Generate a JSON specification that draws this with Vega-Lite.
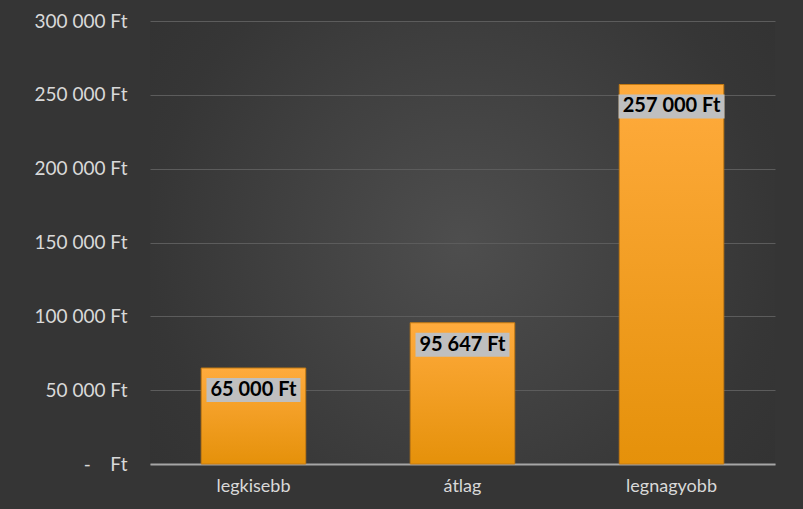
{
  "$schema": "https://vega.github.io/schema/vega-lite/v6.json",
  "width": 625,
  "height": 443,
  "autosize": {"type": "none"},
  "padding": {"left": 150, "top": 21, "right": 28, "bottom": 45},
  "background": "#353535",
  "data": {
    "values": [
      {"category": "legkisebb", "value": 65000, "label": "65 000 Ft"},
      {"category": "átlag", "value": 95647, "label": "95 647 Ft"},
      {"category": "legnagyobb", "value": 257000, "label": "257 000 Ft"}
    ]
  },
  "encoding": {
    "x": {
      "field": "category",
      "type": "nominal",
      "sort": null,
      "scale": {"paddingInner": 0.5, "paddingOuter": 0.245},
      "axis": {
        "title": null,
        "labelAngle": 0,
        "ticks": false,
        "domainColor": "#a6a6a6",
        "domainWidth": 2,
        "labelColor": "#d9d9d9",
        "labelFont": "Lato",
        "labelFontSize": 18,
        "labelPadding": 13,
        "grid": false
      }
    },
    "y": {
      "field": "value",
      "type": "quantitative",
      "scale": {"domain": [0, 300000], "nice": false},
      "axis": {
        "title": null,
        "domain": false,
        "ticks": false,
        "grid": true,
        "gridColor": "#5c5c5c",
        "gridWidth": 1,
        "labelColor": "#d9d9d9",
        "labelFont": "Lato",
        "labelFontSize": 19,
        "labelPadding": 23,
        "values": [0, 50000, 100000, 150000, 200000, 250000, 300000],
        "labelExpr": "datum.value === 0 ? '-\u00a0\u00a0\u00a0\u00a0Ft' : replace(format(datum.value, ','), regexp(',', 'g'), ' ') + ' Ft'"
      }
    }
  },
  "layer": [
    {
      "mark": {
        "type": "bar",
        "fill": {
          "gradient": "linear",
          "x1": 0, "y1": 0, "x2": 0, "y2": 1,
          "stops": [
            {"offset": 0, "color": "#FFAB3D"},
            {"offset": 1, "color": "#E5910A"}
          ]
        },
        "stroke": "#c47a12",
        "strokeWidth": 1
      }
    },
    {
      "mark": {
        "type": "point",
        "filled": true,
        "color": "#bfbfbf",
        "opacity": 1,
        "strokeWidth": 0,
        "yOffset": 22
      },
      "encoding": {
        "shape": {
          "condition": {"test": "datum.value > 200000", "value": "M-1,-0.226L1,-0.226L1,0.226L-1,0.226Z"},
          "value": "M-1,-0.255L1,-0.255L1,0.255L-1,0.255Z"
        },
        "size": {
          "condition": {"test": "datum.value > 200000", "value": 11236},
          "value": 8836
        }
      }
    },
    {
      "mark": {
        "type": "text",
        "font": "Lato",
        "fontWeight": "bold",
        "fontSize": 20,
        "fill": "#000000",
        "baseline": "middle",
        "align": "center",
        "yOffset": 22
      },
      "encoding": {
        "text": {"field": "label"}
      }
    }
  ],
  "config": {
    "view": {
      "stroke": null,
      "fill": {
        "gradient": "radial",
        "x1": 0.5, "y1": 0.5, "r1": 0,
        "x2": 0.5, "y2": 0.5, "r2": 0.72,
        "stops": [
          {"offset": 0, "color": "#4e4e4e"},
          {"offset": 0.69, "color": "#363636"},
          {"offset": 1, "color": "#303030"}
        ]
      }
    }
  }
}
